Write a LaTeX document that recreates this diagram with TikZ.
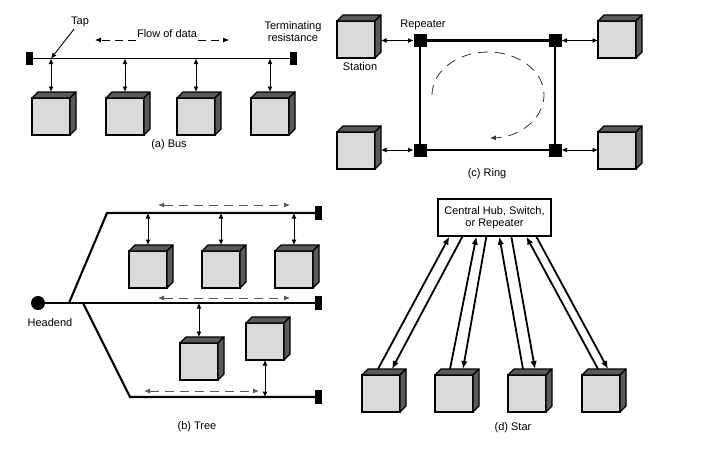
\documentclass[tikz,border=0pt]{standalone}
\usepackage{fontspec}
\setmainfont{Liberation Sans}
\usetikzlibrary{arrows.meta,calc}
\definecolor{facegray}{HTML}{D9D9D9}
\definecolor{darkface}{HTML}{5A5A5A}
\tikzset{
  cubefront/.style={draw=black, line width=1.3pt, fill=facegray, minimum width=38pt,
    minimum height=37pt, inner sep=0pt, outer sep=0pt},
  cubeedge/.style={draw=black, line width=1.3pt, fill=darkface, line join=round},
  term/.style={fill=black, minimum width=7pt, minimum height=13pt, inner sep=0pt, outer sep=0pt},
  rep/.style={fill=black, minimum size=13pt, inner sep=0pt, outer sep=0pt},
  headend/.style={circle, fill=black, minimum size=14pt, inner sep=0pt, outer sep=0pt},
  busline/.style={line width=1.8pt},
  ringline/.style={line width=2.1pt},
  treeline/.style={line width=2.1pt},
  dblar/.style={line width=0.9pt, {Latex[length=5.5pt,width=5pt]}-{Latex[length=5.5pt,width=5pt]}},
  onear/.style={line width=0.9pt, -{Latex[length=5.5pt,width=5pt]}},
  dashar/.style={line width=0.8pt, dash pattern=on 8pt off 5pt, -{Latex[length=6pt,width=5pt]}},
  dashdbl/.style={line width=0.8pt, black!65, dash pattern=on 9pt off 6pt,
    {Latex[length=6pt,width=5pt]}-{Latex[length=6pt,width=5pt]}},
  ringdash/.style={line width=0.8pt, black!80, dash pattern=on 10pt off 7pt, -{Latex[length=6pt,width=5pt]}},
  starar/.style={line width=1.8pt, -{Latex[length=8pt,width=6.5pt]}},
  hubbox/.style={draw=black, line width=1.3pt, minimum width=113pt, minimum height=37pt,
    align=center, inner sep=2pt},
  lbl/.style={inner sep=1pt},
}
\newcommand\mycube[3]{%
  \node[cubefront, anchor=north west] (#1) at (#2,#3) {};
  \filldraw[cubeedge] (#1.north west) -- ++(6,-6) -- ++(38,0) -- (#1.north east) -- cycle;
  \filldraw[cubeedge] (#1.north east) -- ++(6,-6) -- ++(0,37) -- (#1.south east) -- cycle;
}
\begin{document}
\begin{tikzpicture}[x=1pt,y=-1pt,font=\fontsize{11}{12}\selectfont]
\useasboundingbox (0,0) rectangle (728,459);

% ---------------- (a) Bus ----------------
\node[term] (tl) at (29.5,58.5) {};
\node[term] (tr) at (293.5,58.5) {};
\draw[busline] (tl.east) -- (tr.west);
\mycube{b1}{32}{98}
\mycube{b2}{106}{98}
\mycube{b3}{177}{98}
\mycube{b4}{251}{98}
\foreach \b in {b1,b2,b3,b4}
  \draw[dblar] (\b.north |- tl.east) -- ($(\b.north)+(0,-6)$);
\node[lbl] (taplbl) at (80,22) {Tap};
\draw[onear] ($(taplbl.south)+(-6,1)$) -- (b1.north |- tl.east);
\node[lbl] (flow) at (167,34) {Flow of data};
\coordinate (fl) at (95,40);
\coordinate (fr) at (229,40);
\draw[dashar] (flow.west |- fl) -- (fl);
\draw[dashar] (flow.east |- fr) -- (fr);
\node[lbl, align=center] (termlbl) at (293,32) {Terminating\\resistance};
\node[lbl] (capa) at (169,145) {(a) Bus};

% ---------------- (c) Ring ----------------
\node[rep] (r1) at (420,40.5) {};
\node[rep] (r2) at (555,40.5) {};
\node[rep] (r3) at (420,150) {};
\node[rep] (r4) at (555,150) {};
\draw[ringline] (r1) -- (r2);
\draw[ringline] (r2) -- (r4);
\draw[ringline] (r4) -- (r3);
\draw[ringline] (r3) -- (r1);
\mycube{s1}{337}{21}
\mycube{s2}{598}{21}
\mycube{s3}{337}{132}
\mycube{s4}{598}{132}
\coordinate (s1e) at ($(s1.east)+(6,0)$);
\coordinate (s3e) at ($(s3.east)+(6,0)$);
\draw[dblar] (s1e |- r1) -- (r1.west);
\draw[dblar] (s3e |- r3) -- (r3.west);
\draw[dblar] (r2.east) -- (s2.west |- r2);
\draw[dblar] (r4.east) -- (s4.west |- r4);
\node[lbl] (replbl) at (423,25) {Repeater};
\node[lbl] (stlbl) at (360,67) {Station};
\coordinate (rc) at (488,95);
\draw[ringdash] ($(rc)+(-56,0)$) arc[start angle=180, end angle=448, x radius=56, y radius=43];
\node[lbl] (capc) at (487,174) {(c) Ring};

% ---------------- (b) Tree ----------------
\node[headend] (he) at (38,303) {};
\node[term, minimum height=14pt] (tt1) at (318.5,213) {};
\node[term, minimum height=14pt] (tt2) at (318.5,303) {};
\node[term, minimum height=14pt] (tt3) at (318.5,397) {};
\coordinate (ja) at (69,303);
\coordinate (jb) at (83,303);
\coordinate (ka) at (107,213);
\coordinate (kb) at (130,397);
\draw[treeline] (he) -- (tt2.west);
\draw[treeline, line join=miter] (ja) -- (ka) -- (tt1.west);
\draw[treeline, line join=miter] (jb) -- (kb) -- (tt3.west);
\mycube{tb1}{129}{251}
\mycube{tb2}{202}{251}
\mycube{tb3}{275}{251}
\foreach \b in {tb1,tb2,tb3}
  \draw[dblar] (\b.north |- tt1) -- ($(\b.north)+(0,-6)$);
\mycube{ma}{180}{343}
\mycube{mb}{246}{323}
\draw[dblar] (ma.north |- tt2) -- ($(ma.north)+(0,-6)$);
\draw[dblar] (mb.south) -- (mb.south |- tt3);
\coordinate (d1l) at (158,205);
\coordinate (d1r) at (290,205);
\coordinate (d2l) at (158,298);
\coordinate (d2r) at (290,298);
\coordinate (d3l) at (144,391);
\coordinate (d3r) at (259,391);
\draw[dashdbl] (d1l) -- (d1r);
\draw[dashdbl] (d2l) -- (d2r);
\draw[dashdbl] (d3l) -- (d3r);
\node[lbl] (helbl) at (50,323) {Headend};
\node[lbl] (capb) at (197,427) {(b) Tree};

% ---------------- (d) Star ----------------
\node[hubbox] (hub) at (494.5,217.5) {Central Hub, Switch,\\or Repeater};
\mycube{c1}{362}{375}
\mycube{c2}{435}{375}
\mycube{c3}{508}{375}
\mycube{c4}{582}{375}
\draw[starar] ($(c1.north west)+(16,-6)$) -- ($(hub.south west)+(12,0)$);
\draw[starar] ($(hub.south west)+(25,0)$) -- ($(c1.north west)+(30,-6)$);
\draw[starar] ($(c2.north west)+(15,-6)$) -- ($(hub.south west)+(39,0)$);
\draw[starar] ($(hub.south west)+(49,0)$) -- ($(c2.north west)+(28,-6)$);
\draw[starar] ($(c3.north west)+(15,-6)$) -- ($(hub.south west)+(62,0)$);
\draw[starar] ($(hub.south west)+(74,0)$) -- ($(c3.north west)+(27,-6)$);
\draw[starar] ($(c4.north west)+(16,-6)$) -- ($(hub.south west)+(89,0)$);
\draw[starar] ($(hub.south west)+(99,0)$) -- ($(c4.north west)+(26,-6)$);
\node[lbl] (capd) at (513,428) {(d) Star};
\end{tikzpicture}
\end{document}
